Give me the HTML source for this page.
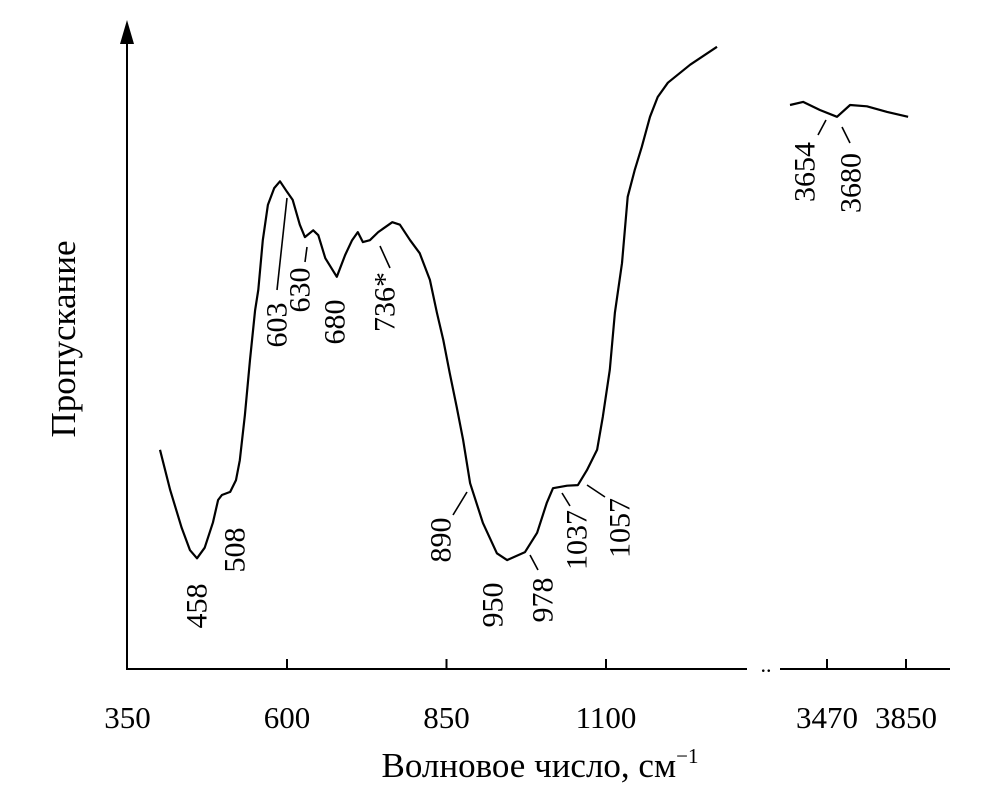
<!DOCTYPE html>
<html><head><meta charset="utf-8"><style>
html,body{margin:0;padding:0;background:#fff;}
svg{display:block;}
text{font-family:"Liberation Serif",serif;fill:#000;}
</style></head><body>
<svg id="chart" width="1002" height="796" viewBox="0 0 1002 796" xmlns="http://www.w3.org/2000/svg">
<g id="axes"></g>
<g id="series"></g>
<g id="labels"></g>
</svg>
<script>
// data
const wn1 = [401,417,435,448,459,471,484,492,498,511,520,526,534,542,550,555,562,570,580,589,600,609,620,628,641,649,660,678,691,702,711,719,730,743,765,777,793,808,824,835,845,855,866,876,887,907,929,945,973,992,1007,1017,1039,1056,1070,1086,1095,1106,1114,1125,1134,1145,1156,1169,1181,1197,1232,1274];
const tr1 = [35.2,28.7,22.6,19.0,17.7,19.4,23.5,27.1,27.9,28.4,30.3,33.5,40.8,49.7,57.7,61.0,69.0,74.7,77.4,78.5,76.8,75.5,71.5,69.5,70.6,69.8,66.1,63.1,66.6,69.0,70.3,68.7,69.0,70.3,71.9,71.5,69.0,66.9,62.6,57.3,52.9,47.6,42.1,36.8,29.8,23.4,18.5,17.4,18.7,21.8,26.6,29.0,29.4,29.5,31.9,35.2,40.5,48.1,57.3,65.3,76.0,80.3,84.0,88.9,92.1,94.4,97.3,100.2];
const wn2 = [3292,3355,3436,3518,3581,3662,3759,3860];
const tr2 = [90.8,91.3,90.0,88.9,90.8,90.6,89.7,88.9];
const tickLabels1 = [350,600,850,1100];
const tickLabels2 = [3470,3850];
const peakLabels = ["458","508","603","630","680","736*","890","950","978","1037","1057","3654","3680"];

// scales
function x1(v){return 127.5+(v-350)*0.638;}
function x2(v){return 827+(v-3470)*0.2079;}
function yT(t){return 668-t*6.2;}

const NS="http://www.w3.org/2000/svg";
function mk(tag,attrs,parent){const e=document.createElementNS(NS,tag);for(const k in attrs)e.setAttribute(k,attrs[k]);parent.appendChild(e);return e;}
const axes=document.getElementById('axes'), series=document.getElementById('series'), labels=document.getElementById('labels');

let a=mk('line',{x1:127,y1:669,x2:127,y2:38,stroke:'#000','stroke-width':2},axes);


let ar=mk('polygon',{points:'127,20 120,44 134,44',fill:'#000'},axes);


let xa=mk('line',{x1:126,y1:669,x2:747,y2:669,stroke:'#000','stroke-width':2},axes);


let xb=mk('line',{x1:780,y1:669,x2:950,y2:669,stroke:'#000','stroke-width':2},axes);


let br=mk('text',{x:766,y:672,'font-size':22,'text-anchor':'middle'},axes);br.textContent='..';



tickLabels1.forEach(v=>{
  const x=x1(v);
  if(v!==350){const t=mk('line',{x1:x,y1:669,x2:x,y2:659,stroke:'#000','stroke-width':2},axes);
    
    }
  const l=mk('text',{x:x,y:728,'font-size':31,'text-anchor':'middle'},axes);l.textContent=v;
  
  
});
tickLabels2.forEach(v=>{
  const x=x2(v);
  const t=mk('line',{x1:x,y1:669,x2:x,y2:659,stroke:'#000','stroke-width':2},axes);
  
  
  const l=mk('text',{x:x,y:728,'font-size':31,'text-anchor':'middle'},axes);l.textContent=v;
  
  
});
let xt=mk('text',{x:540,y:777,'font-size':35,'text-anchor':'middle'},axes);
xt.innerHTML='Волновое число, см<tspan font-size="21" dy="-14">−1</tspan>';


let yt=mk('text',{x:0,y:0,'font-size':35,'text-anchor':'middle',transform:'translate(75,339) rotate(-90)'},axes);
yt.textContent='Пропускание';



const p1=mk('path',{d:wn1.map((v,i)=>(i?'L':'M')+x1(v).toFixed(1)+','+yT(tr1[i]).toFixed(1)).join(''),fill:'none',stroke:'#000','stroke-width':2.2,'stroke-linejoin':'round'},series);


const p2=mk('path',{d:wn2.map((v,i)=>(i?'L':'M')+x2(v).toFixed(1)+','+yT(tr2[i]).toFixed(1)).join(''),fill:'none',stroke:'#000','stroke-width':2.2,'stroke-linejoin':'round'},series);



// label positions (layout, not data)
const lp=[[197,606],[235,550],[277,325],[300,290],[335,322],[385,302],[441,540],[493,605],[543,600],[577,540],[620,528],[805,172],[851,183]];
const leaders=[null,null,[277,290,287,198],[305,262,307,247],null,[390,268,380,246],[453,515,467,492],null,[530,555,538,570],[562,493,570,506],[587,485,605,497],[818,135,826,120],[842,127,850,143]];
peakLabels.forEach((s,i)=>{
  const t=mk('text',{x:0,y:0,'font-size':30,'text-anchor':'middle','dominant-baseline':'central',transform:`translate(${lp[i][0]},${lp[i][1]}) rotate(-90)`},labels);
  t.textContent=s;
  
  
  const L=leaders[i];
  if(L){const l=mk('line',{x1:L[0],y1:L[1],x2:L[2],y2:L[3],stroke:'#000','stroke-width':1.6},labels);
    
    }
});
</script>
</body></html>
